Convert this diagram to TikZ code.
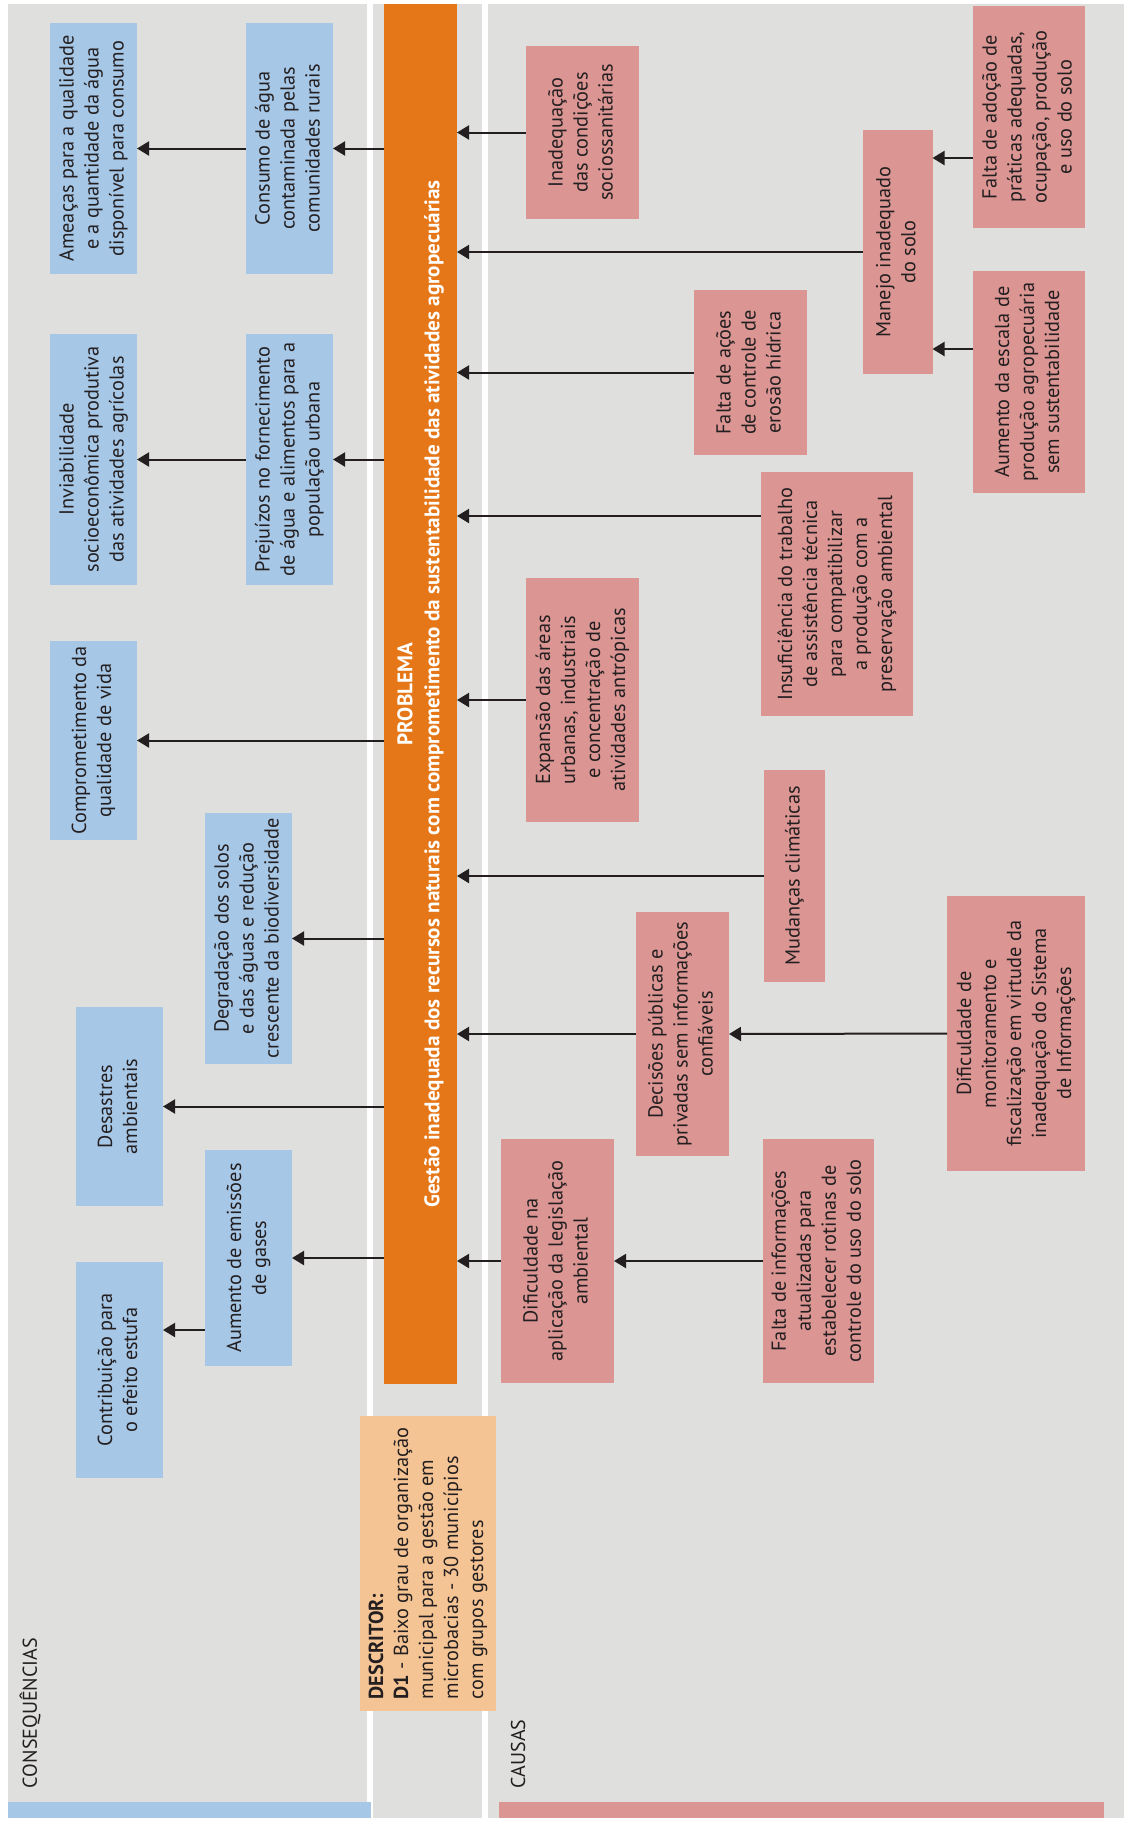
\documentclass[tikz,border=0pt]{standalone}
\usepackage{fontspec}
\setmainfont{PT Sans}
\usepackage{graphicx}
\usetikzlibrary{arrows.meta}
\definecolor{bg}{RGB}{223,223,221}
\definecolor{cblue}{RGB}{167,199,231}
\definecolor{cpink}{RGB}{219,149,147}
\definecolor{corange}{RGB}{229,119,24}
\definecolor{cpeach}{RGB}{245,196,148}
\definecolor{ink}{RGB}{35,31,32}
\newcommand\vtext[1]{\rotatebox{90}{\begin{tabular}{@{}c@{}}#1\end{tabular}}}
\newcommand\vleft[1]{\rotatebox{90}{\begin{tabular}{@{}l@{}}#1\end{tabular}}}
\begin{document}
\begin{tikzpicture}[x=1pt,y=-1pt,
  every node/.style={font=\fontsize{20.3}{25}\selectfont, text=ink, inner sep=0pt, outer sep=0pt},
  cbox/.style={fill=cblue, draw=none, minimum width=87},
  pbox/.style={fill=cpink, draw=none},
  lbl/.style={font=\fontsize{20}{24}\selectfont},
  arr/.style={draw=ink, line width=2pt, -{Triangle[length=12pt,width=14pt]}}
]
\useasboundingbox (0,0) rectangle (1124,1821);
\fill[white] (0,0) rectangle (1124,1821);
% panels
\fill[bg] (8,4) rectangle (367,1818);
\fill[bg] (372.5,4) rectangle (482,1818);
\fill[bg] (487.5,4) rectangle (1124,1818);
\fill[cblue] (8,1802) rectangle (371,1818);
\fill[cpink] (499,1802) rectangle (1104,1818);

% labels
\node[lbl, anchor=south] (conseq) at (30,1788) {\rotatebox{90}{CONSEQUÊNCIAS}};
\node[lbl, anchor=south] (causas) at (518,1788) {\rotatebox{90}{CAUSAS}};

% problem bar
\node[fill=corange, minimum width=73, minimum height=1380, text=white,
      font=\fontsize{21.1}{27}\selectfont\bfseries] (prob) at (420.5,694)
  {\vtext{PROBLEMA\\Gestão inadequada dos recursos naturais com comprometimento da sustentabilidade das atividades agropecuárias}};

% descriptor
\node[fill=cpeach, minimum width=136, minimum height=295] (desc) at (428,1563.5)
  {\vleft{\textbf{DESCRITOR:}\\\textbf{D1} - Baixo grau de organização\\municipal para a gestão em\\microbacias - 30 municípios\\com grupos gestores}};

% consequences
\node[cbox, minimum height=251] (b1) at (93.5,148.5) {\vtext{Ameaças para a qualidade\\e a quantidade da água\\disponível para consumo}};
\node[cbox, minimum height=251] (b2) at (289.5,148.5) {\vtext{Consumo de água\\contaminada pelas\\comunidades rurais}};
\node[cbox, minimum height=251] (b3) at (93.5,459.5) {\vtext{Inviabilidade\\socioeconômica produtiva\\das atividades agrícolas}};
\node[cbox, minimum height=251] (b4) at (289.5,459.5) {\vtext{Prejuízos no fornecimento\\de água e alimentos para a\\população urbana}};
\node[cbox, minimum height=199] (b5) at (93.5,740.5) {\vtext{Comprometimento da\\qualidade de vida}};
\node[cbox, minimum height=251] (b6) at (248.5,938.5) {\vtext{Degradação dos solos\\e das águas e redução\\crescente da biodiversidade}};
\node[cbox, minimum height=199] (b7) at (119.5,1106.5) {\vtext{Desastres\\ambientais}};
\node[cbox, minimum height=216] (b8) at (248.5,1258) {\vtext{Aumento de emissões\\de gases}};
\node[cbox, minimum height=216] (b9) at (119.5,1370) {\vtext{Contribuição para\\o efeito estufa}};

% causes
\node[pbox, minimum width=113, minimum height=173] (p1) at (582.5,132.5) {\vtext{Inadequação\\das condições\\sociossanitárias}};
\node[pbox, minimum width=69.5, minimum height=244] (p2) at (897.75,252) {\vtext{Manejo inadequado\\do solo}};
\node[pbox, minimum width=112, minimum height=222] (p3) at (1029,117) {\vtext{Falta de adoção de\\práticas adequadas,\\ocupação, produção\\e uso do solo}};
\node[pbox, minimum width=112, minimum height=222] (p4) at (1029,382) {\vtext{Aumento da escala de\\produção agropecuária\\sem sustentabilidade}};
\node[pbox, minimum width=113, minimum height=165] (p5) at (750.5,372.5) {\vtext{Falta de ações\\de controle de\\erosão hídrica}};
\node[pbox, minimum width=152, minimum height=244] (p6) at (837,594) {\vtext{Insuficiência do trabalho\\de assistência técnica\\para compatibilizar\\a produção com a\\preservação ambiental}};
\node[pbox, minimum width=113, minimum height=244] (p7) at (582.5,700) {\vtext{Expansão das áreas\\urbanas, industriais\\e concentração de\\atividades antrópicas}};
\node[pbox, minimum width=61, minimum height=212] (p8) at (794.5,876) {\vtext{Mudanças climáticas}};
\node[pbox, minimum width=93, minimum height=244] (p9) at (682.5,1034) {\vtext{Decisões públicas e\\privadas sem informações\\confiáveis}};
\node[pbox, minimum width=138, minimum height=275] (p10) at (1016,1033.5) {\vtext{Dificuldade de\\monitoramento e\\fiscalização em virtude da\\inadequação do Sistema\\de Informações}};
\node[pbox, minimum width=113, minimum height=244] (p11) at (557.5,1261) {\vtext{Dificuldade na\\aplicação da legislação\\ambiental}};
\node[pbox, minimum width=111.5, minimum height=244] (p12) at (818.25,1261) {\vtext{Falta de informações\\atualizadas para\\estabelecer rotinas de\\controle do uso do solo}};

% consequence arrows
\draw[arr] (prob.west |- b2.east) -- (b2.east);
\draw[arr] (b2.west) -- (b1.east);
\draw[arr] (prob.west |- b4.east) -- (b4.east);
\draw[arr] (b4.west) -- (b3.east);
\draw[arr] (prob.west |- b5.east) -- (b5.east);
\draw[arr] (prob.west |- b6.east) -- (b6.east);
\draw[arr] (prob.west |- b7.east) -- (b7.east);
\draw[arr] (prob.west |- b8.east) -- (b8.east);
\draw[arr] ([yshift=-72pt]b8.west) -- ([yshift=-72pt]b8.west -| b9.east);

% cause arrows
\draw[arr] (p1.west) -- (p1.west -| prob.east);
\draw[arr] (p2.west) -- (p2.west -| prob.east);
\draw[arr] ([yshift=-41pt]p3.west) -- ([yshift=-41pt]p3.west -| p2.east);
\draw[arr] ([yshift=33pt]p4.west) -- ([yshift=33pt]p4.west -| p2.east);
\draw[arr] (p5.west) -- (p5.west -| prob.east);
\draw[arr] ([yshift=78pt]p6.west) -- ([yshift=78pt]p6.west -| prob.east);
\draw[arr] (p7.west) -- (p7.west -| prob.east);
\draw[arr] (p8.west) -- (p8.west -| prob.east);
\draw[arr] (p9.west) -- (p9.west -| prob.east);
\draw[arr] (p10.west) -- (p9.east);
\draw[arr] (p11.west) -- (p11.west -| prob.east);
\draw[arr] (p12.west) -- (p11.east);
\end{tikzpicture}
\end{document}
